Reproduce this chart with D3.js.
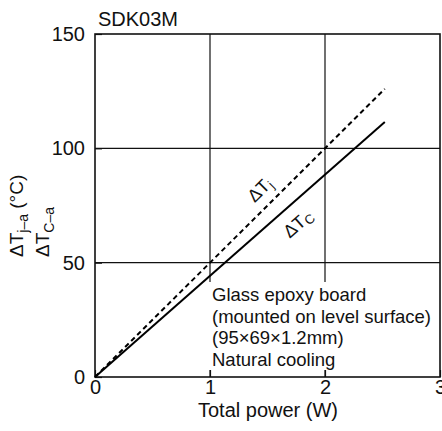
<!DOCTYPE html>
<html><head><meta charset="utf-8">
<script src="https://cdn.jsdelivr.net/npm/d3@7"></script>
<style>body{margin:0;background:#fff}svg{display:block}text{font-family:"Liberation Sans",Arial,sans-serif;fill:#111}</style>
</head><body><svg id="c" width="442" height="431"></svg>
<script>
const title = "SDK03M";
const xTicks = [0, 1, 2, 3];
const yTicks = [0, 50, 100, 150];
const powerW = [0, 2.52];
const dTj = [0, 126];
const dTc = [0, 111.5];
const noteLines = ["Glass epoxy board", "(mounted on level surface)", "(95×69×1.2mm)", "Natural cooling"];

const svg = d3.select("#c");
const L = 95, R = 440, T = 34, B = 377;
const x = d3.scaleLinear().domain([0, 3]).range([L, R]);
const y = d3.scaleLinear().domain([0, 150]).range([B, T]);

// grid
svg.append("g").selectAll("line").data(yTicks.slice(1, 3)).join("line")
  .attr("x1", L).attr("x2", R).attr("y1", d => y(d)).attr("y2", d => y(d))
  .attr("stroke", "#111").attr("stroke-width", 1.2);
svg.append("g").selectAll("line").data(xTicks.slice(1, 3)).join("line")
  .attr("x1", d => x(d)).attr("x2", d => x(d)).attr("y1", T).attr("y2", B)
  .attr("stroke", "#111").attr("stroke-width", 1.2);

// note box
svg.append("rect").attr("x", 205).attr("y", 282).attr("width", R - 206).attr("height", 88).attr("fill", "#fff");
svg.append("g").selectAll("text").data(noteLines).join("text")
  .attr("x", 212).attr("y", (d, i) => 301 + i * 21.5).attr("font-size", 18.5).text(d => d);

// axes
const xa = svg.append("g").attr("transform", `translate(0,${B})`)
  .call(d3.axisBottom(x).tickValues(xTicks).tickSize(-7).tickPadding(2).tickFormat(d3.format("d")));
const ya = svg.append("g").attr("transform", `translate(${L},0)`)
  .call(d3.axisLeft(y).tickValues(yTicks).tickSize(-7).tickPadding(10).tickFormat(d3.format("d")));
[xa, ya].forEach(a => {
  a.select(".domain").remove();
  a.selectAll("line").attr("stroke", "#111").attr("stroke-width", 1.2);
  a.selectAll("text").attr("font-size", 20).attr("font-family", "Liberation Sans, Arial, sans-serif").attr("fill", "#111");
});
xa.selectAll("text").attr("dy", "0.75em");

// frame
svg.append("rect").attr("x", L).attr("y", T).attr("width", R - L).attr("height", B - T)
  .attr("fill", "none").attr("stroke", "#111").attr("stroke-width", 1.6);

// lines
const line = d3.line().x(d => x(d[0])).y(d => y(d[1]));
svg.append("path").attr("d", line(powerW.map((p, i) => [p, dTj[i]])))
  .attr("fill", "none").attr("stroke", "#000").attr("stroke-width", 2).attr("stroke-dasharray", "5,3.5");
svg.append("path").attr("d", line(powerW.map((p, i) => [p, dTc[i]])))
  .attr("fill", "none").attr("stroke", "#000").attr("stroke-width", 2);

// line labels
const lj = svg.append("text").attr("transform", "translate(264,194) rotate(-45)").attr("font-size", 18).attr("text-anchor", "middle");
lj.append("tspan").text("ΔT");
lj.append("tspan").attr("font-size", 13).attr("dy", 3).text("j");
const lc = svg.append("text").attr("transform", "translate(302,228) rotate(-41)").attr("font-size", 18).attr("text-anchor", "middle");
lc.append("tspan").text("ΔT");
lc.append("tspan").attr("font-size", 13).attr("dy", 3).text("C");

// title
svg.append("text").attr("x", 98).attr("y", 26).attr("font-size", 20).text(title);

// y label
const yl1 = svg.append("text").attr("transform", "translate(23,257) rotate(-90)").attr("font-size", 19);
yl1.append("tspan").text("ΔT");
yl1.append("tspan").attr("font-size", 14).attr("dy", 5).text("j–a");
yl1.append("tspan").attr("dy", -5).text(" (°C)");
const yl2 = svg.append("text").attr("transform", "translate(49,257) rotate(-90)").attr("font-size", 19);
yl2.append("tspan").text("ΔT");
yl2.append("tspan").attr("font-size", 14).attr("dy", 5).text("C–a");

// x label
svg.append("text").attr("x", 268).attr("y", 417).attr("text-anchor", "middle").attr("font-size", 20).text("Total power (W)");
</script></body></html>
